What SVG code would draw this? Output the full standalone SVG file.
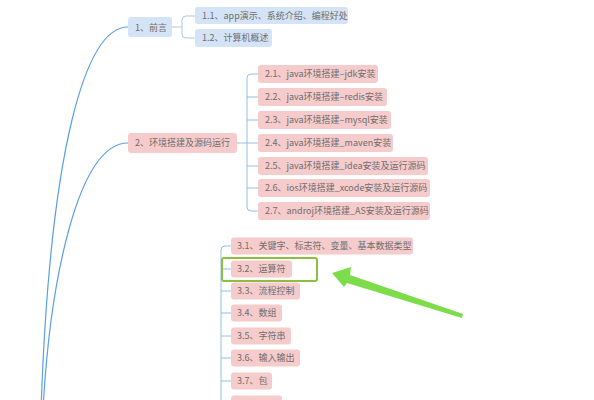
<svg xmlns="http://www.w3.org/2000/svg" width="594" height="400" viewBox="0 0 594 400">
<style>
.t{font-family:"Noto Sans CJK SC","Noto Sans",sans-serif;font-size:9px;fill:#6e6e6e}
.b{fill:#d4e3f6}
.p{fill:#f6cbcb}
.main{fill:none;stroke:#5b9fe0;stroke-width:1.2}
.br1{fill:none;stroke:#b3c7dc;stroke-width:1}
.br{fill:none;stroke:#93bfe4;stroke-width:1}
</style>
<rect width="594" height="400" fill="#ffffff"/>
<g id="connectors">
<path class="main" d="M41,410 C50,150 85,27 128,27"/>
<path class="main" d="M43,410 C50,280 78,143 128,143"/>
<path class="br1" d="M172,27 H182"/>
<path class="br1" d="M195,16 H186 Q182,16 182,20 V34 Q182,38 186,38 H195"/>
<path class="br" d="M237,143 H247"/>
<path class="br" d="M258,74 H251 Q247,74 247,78 V207 Q247,211 251,211 H258 M247,97 H258 M247,120 H258 M247,143 H258 M247,166 H258 M247,188 H258"/>
<path class="br" d="M231,246 H225 Q221,246 221,250 V400 M221,269 H231 M221,291 H231 M221,313 H231 M221,336 H231 M221,358 H231 M221,381 H231"/>
</g>
<g id="n1"><rect class="b" x="128" y="17" width="44" height="20" rx="3"/><text class="t" x="135" y="30.5">1、前言</text></g>
<g id="n1-1"><rect class="b" x="195" y="7" width="153" height="17" rx="3"/><text class="t" x="202" y="18.8">1.1、app演示、系统介绍、编程好处</text></g>
<g id="n1-2"><rect class="b" x="195" y="29" width="77" height="18" rx="3"/><text class="t" x="202" y="41.3">1.2、计算机概述</text></g>
<g id="n2"><rect class="p" x="128" y="133" width="109" height="20" rx="3"/><text class="t" x="135" y="146.3">2、环境搭建及源码运行</text></g>
<g id="n2-1"><rect class="p" x="258" y="65" width="120" height="18" rx="3"/><text class="t" x="265" y="77.3">2.1、java环境搭建–jdk安装</text></g>
<g id="n2-2"><rect class="p" x="258" y="88" width="129" height="18" rx="3"/><text class="t" x="265" y="100.3">2.2、java环境搭建–redis安装</text></g>
<g id="n2-3"><rect class="p" x="258" y="111" width="133" height="18" rx="3"/><text class="t" x="265" y="123.3">2.3、java环境搭建–mysql安装</text></g>
<g id="n2-4"><rect class="p" x="258" y="134" width="135" height="18" rx="3"/><text class="t" x="265" y="146.3">2.4、java环境搭建_maven安装</text></g>
<g id="n2-5"><rect class="p" x="258" y="157" width="170" height="18" rx="3"/><text class="t" x="265" y="169.3">2.5、java环境搭建_idea安装及运行源码</text></g>
<g id="n2-6"><rect class="p" x="258" y="179" width="172" height="18" rx="3"/><text class="t" x="265" y="191.3">2.6、ios环境搭建_xcode安装及运行源码</text></g>
<g id="n2-7"><rect class="p" x="258" y="202" width="172" height="18" rx="3"/><text class="t" x="265" y="214.3">2.7、androj环境搭建_AS安装及运行源码</text></g>
<g id="n3-1"><rect class="p" x="231" y="237.5" width="182" height="17" rx="3"/><text class="t" x="237" y="249.3">3.1、关键字、标志符、变量、基本数据类型</text></g>
<g id="n3-2"><rect class="p" x="231" y="260.5" width="61" height="17" rx="3"/><text class="t" x="237" y="272.3">3.2、运算符</text></g>
<g id="n3-3"><rect class="p" x="231" y="282.5" width="69" height="17" rx="3"/><text class="t" x="237" y="294.3">3.3、流程控制</text></g>
<g id="n3-4"><rect class="p" x="231" y="304.5" width="51" height="17" rx="3"/><text class="t" x="237" y="316.3">3.4、数组</text></g>
<g id="n3-5"><rect class="p" x="231" y="327.5" width="60" height="17" rx="3"/><text class="t" x="237" y="339.3">3.5、字符串</text></g>
<g id="n3-6"><rect class="p" x="231" y="349.5" width="69" height="17" rx="3"/><text class="t" x="237" y="361.3">3.6、输入输出</text></g>
<g id="n3-7"><rect class="p" x="231" y="372.5" width="41" height="17" rx="3"/><text class="t" x="237" y="384.3">3.7、包</text></g>
<g id="n3-8"><rect class="p" x="231" y="395.5" width="51" height="17" rx="3"/></g>
<g id="highlight">
<rect x="222" y="258" width="95" height="23" rx="2" fill="none" stroke="#8cbf3f" stroke-width="2"/>
<polygon points="332,273 351,267 350,275 463,314 462,318 347,283 344,287" fill="#7ddc4a"/>
</g>
</svg>
